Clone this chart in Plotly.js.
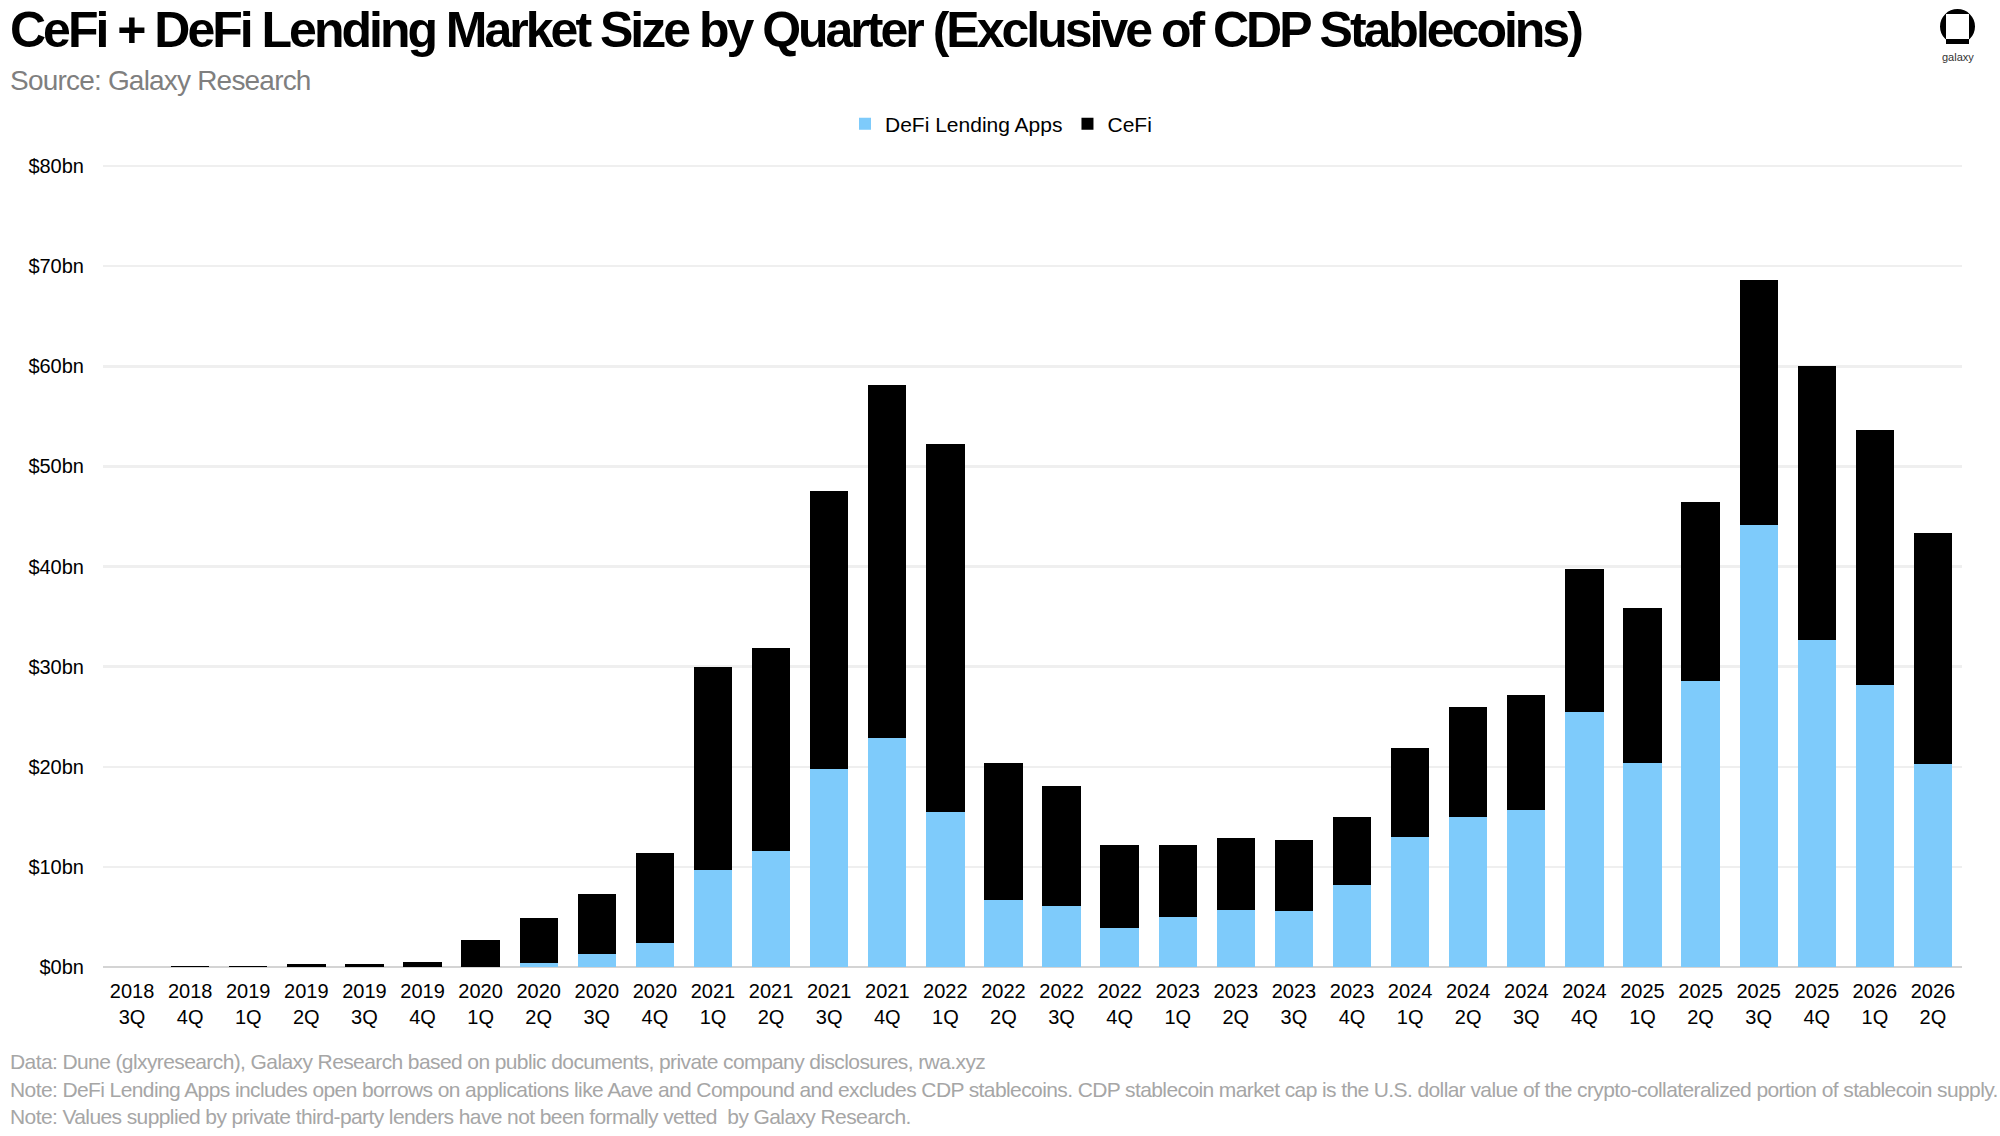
<!DOCTYPE html>
<html>
<head>
<meta charset="utf-8">
<script src="https://cdn.plot.ly/plotly-3.0.1.min.js"></script>
<style>
  html, body { margin: 0; padding: 0; background: #ffffff; }
  #chart { width: 2000px; height: 1136px; }
  #chart .gtitle { letter-spacing: -3px; }
  #chart g.annotation[data-index="0"] text { letter-spacing: -0.8px; }
  #chart g.annotation[data-index="2"] text,
  #chart g.annotation[data-index="3"] text,
  #chart g.annotation[data-index="4"] text { letter-spacing: -0.6px; }
</style>
</head>
<body>
<div id="chart"></div>
<script>
// ---- Data (values in $bn) ----
const quarters = [
  "2018<br>3Q","2018<br>4Q","2019<br>1Q","2019<br>2Q","2019<br>3Q","2019<br>4Q",
  "2020<br>1Q","2020<br>2Q","2020<br>3Q","2020<br>4Q",
  "2021<br>1Q","2021<br>2Q","2021<br>3Q","2021<br>4Q",
  "2022<br>1Q","2022<br>2Q","2022<br>3Q","2022<br>4Q",
  "2023<br>1Q","2023<br>2Q","2023<br>3Q","2023<br>4Q",
  "2024<br>1Q","2024<br>2Q","2024<br>3Q","2024<br>4Q",
  "2025<br>1Q","2025<br>2Q","2025<br>3Q","2025<br>4Q",
  "2026<br>1Q","2026<br>2Q"
];
const defiLending = [
  0, 0, 0, 0, 0, 0,
  0, 0.4, 1.3, 2.4,
  9.7, 11.6, 19.8, 22.9,
  15.5, 6.7, 6.1, 3.9,
  5.0, 5.7, 5.6, 8.2,
  13.0, 15.0, 15.7, 25.5,
  20.4, 28.6, 44.1, 32.7,
  28.2, 20.3
];
const cefi = [
  0, 0.1, 0.1, 0.3, 0.3, 0.5,
  2.7, 4.5, 6.0, 9.0,
  20.3, 20.3, 27.7, 35.2,
  36.7, 13.7, 12.0, 8.3,
  7.2, 7.2, 7.1, 6.8,
  8.9, 11.0, 11.5, 14.3,
  15.5, 17.8, 24.5, 27.3,
  25.4, 23.0
];
const yTickVals = [0, 10, 20, 30, 40, 50, 60, 70, 80];
const yTickText = ["$0bn","$10bn","$20bn","$30bn","$40bn","$50bn","$60bn","$70bn","$80bn"];

const titleText = "CeFi + DeFi Lending Market Size by Quarter (Exclusive of CDP Stablecoins)";
const subtitleText = "Source: Galaxy Research";
const footerLines = [
  "Data: Dune (glxyresearch), Galaxy Research based on public documents, private company disclosures, rwa.xyz",
  "Note: DeFi Lending Apps includes open borrows on applications like Aave and Compound and excludes CDP stablecoins. CDP stablecoin market cap is the U.S. dollar value of the crypto-collateralized portion of stablecoin supply.",
  "Note: Values supplied by private third-party lenders have not been formally vetted &nbsp;by Galaxy Research."
];

// ---- Layout geometry (pixels) ----
const W = 2000, H = 1136;
const M = { l: 103, r: 38, t: 161, b: 169 };
const Y_MAX = 80.5;
const plotW = W - M.l - M.r, plotH = H - M.t - M.b;
const px2x = p => (p - M.l) / plotW;
const px2y = p => (H - M.b - p) / plotH;

const SANS = "Liberation Sans, Arial, sans-serif";

const traces = [
  {
    type: "bar", name: "DeFi Lending Apps", x: quarters, y: defiLending,
    marker: { color: "#7ecbfb" }, hoverinfo: "skip"
  },
  {
    type: "bar", name: "CeFi", x: quarters, y: cefi,
    marker: { color: "#000000" }, hoverinfo: "skip"
  }
];

const annotations = [
  { text: subtitleText, xref: "paper", yref: "paper", x: px2x(8), y: px2y(80),
    xanchor: "left", yanchor: "middle", align: "left", showarrow: false,
    font: { family: SANS, size: 28, color: "#7f7f7f" } },
  { text: "galaxy", xref: "paper", yref: "paper", x: px2x(1958), y: px2y(57),
    xanchor: "center", yanchor: "middle", showarrow: false,
    font: { family: SANS, size: 11, color: "#333333" } }
];
const footerY = [1061, 1089, 1116];
footerLines.forEach((t, i) => {
  annotations.push({ text: t, xref: "paper", yref: "paper", x: px2x(8), y: px2y(footerY[i]),
    xanchor: "left", yanchor: "middle", align: "left", showarrow: false,
    font: { family: SANS, size: 21, color: "#a6a6a6" } });
});

const shapes = [
  { type: "circle", xref: "paper", yref: "paper", x0: px2x(1940), x1: px2x(1975), y0: px2y(44), y1: px2y(9),
    fillcolor: "#000000", line: { width: 0 } },
  { type: "rect", xref: "paper", yref: "paper", x0: px2x(1946), x1: px2x(1969), y0: px2y(39), y1: px2y(14),
    fillcolor: "#ffffff", line: { width: 0 } },
  { type: "rect", xref: "paper", yref: "paper", x0: px2x(1946), x1: px2x(1969), y0: px2y(44), y1: px2y(39),
    fillcolor: "#000000", line: { width: 0 } }
];

const layout = {
  width: W, height: H,
  margin: M,
  paper_bgcolor: "#ffffff", plot_bgcolor: "#ffffff",
  barmode: "stack", bargap: 0.34,
  title: {
    text: "<b>" + titleText + "</b>",
    xref: "container", yref: "container", x: 10 / W, y: 1 - 29 / H,
    xanchor: "left", yanchor: "middle",
    font: { family: SANS, size: 50, color: "#000000" }
  },
  showlegend: true,
  legend: {
    orientation: "h", xref: "paper", yref: "paper",
    x: px2x(1001), y: px2y(124), xanchor: "center", yanchor: "middle",
    font: { family: SANS, size: 21, color: "#000000" },
    traceorder: "normal", itemclick: false, itemdoubleclick: false
  },
  xaxis: {
    type: "category", tickfont: { family: SANS, size: 20, color: "#000000" },
    showgrid: false, showline: false, ticks: "", ticklabelstandoff: 10,
    fixedrange: true
  },
  yaxis: {
    range: [0, Y_MAX], tickvals: yTickVals, ticktext: yTickText,
    tickfont: { family: SANS, size: 20, color: "#000000" },
    showgrid: true, gridcolor: "#efefef", gridwidth: 2.5,
    zeroline: true, zerolinecolor: "#d4d4d4", zerolinewidth: 1.5,
    showline: false, ticks: "", ticklabelstandoff: 18, fixedrange: true
  },
  annotations: annotations,
  shapes: shapes
};

Plotly.newPlot("chart", traces, layout, { staticPlot: true, displayModeBar: false });
</script>
</body>
</html>
